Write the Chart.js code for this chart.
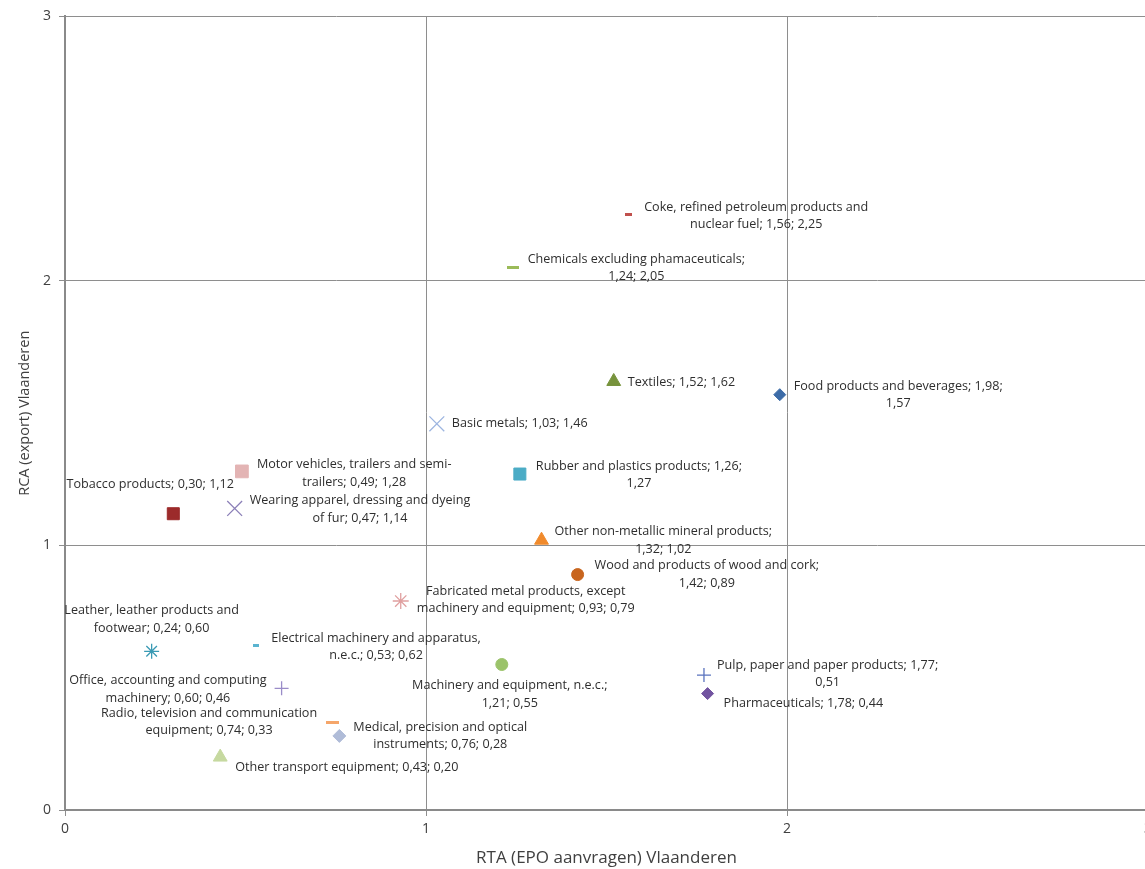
<!DOCTYPE html>
<html>
<head>
<meta charset="utf-8">
<script src="https://cdn.jsdelivr.net/npm/chart.js@4.4.1/dist/chart.umd.min.js"></script>
<style>
  html, body { margin: 0; padding: 0; background: #fff; overflow: hidden; width: 1145px; height: 869px; }
  canvas { display: block; }
</style>
</head>
<body>
<canvas id="chart" width="1165" height="869"></canvas>
<script>
// Sectors (Flanders): technological specialisation (RTA, EPO applications) vs export specialisation (RCA)
const sectors = [
  'Food products and beverages',
  'Tobacco products',
  'Textiles',
  'Wearing apparel, dressing and dyeing of fur',
  'Leather, leather products and footwear',
  'Wood and products of wood and cork',
  'Pulp, paper and paper products',
  'Coke, refined petroleum products and nuclear fuel',
  'Chemicals excluding phamaceuticals',
  'Pharmaceuticals',
  'Rubber and plastics products',
  'Other non-metallic mineral products',
  'Basic metals',
  'Fabricated metal products, except machinery and equipment',
  'Machinery and equipment, n.e.c.',
  'Office, accounting and computing machinery',
  'Electrical machinery and apparatus, n.e.c.',
  'Radio, television and communication equipment',
  'Medical, precision and optical instruments',
  'Motor vehicles, trailers and semi-trailers',
  'Other transport equipment'
];
const rtaValues = [1.98, 0.30, 1.52, 0.47, 0.24, 1.42, 1.77, 1.56, 1.24, 1.78, 1.26, 1.32, 1.03, 0.93, 1.21, 0.60, 0.53, 0.74, 0.76, 0.49, 0.43];
const rcaValues = [1.57, 1.12, 1.62, 1.14, 0.60, 0.89, 0.51, 2.25, 2.05, 0.44, 1.27, 1.02, 1.46, 0.79, 0.55, 0.46, 0.62, 0.33, 0.28, 1.28, 0.20];
const axisRange = [0, 3];
const axisStep = 1;

// number of words on the first line of each data label (0 = single line)
const wrapAfter = [5, 0, 0, 5, 4, 7, 6, 5, 3, 0, 5, 5, 0, 4, 4, 4, 4, 4, 4, 5, 0];
// label placement: r = block starts right of marker, l = block ends left of marker, c = centred
const labelPlacement = [
  ['r', 14, 0], ['c', -23, -29], ['r', 14, 1], ['r', 15, 1], ['c', 0, -32],
  ['r', 17, 0], ['r', 13, -1], ['r', 16, 1], ['r', 15, 0], ['r', 16, 10],
  ['r', 16, 1], ['r', 13, 0], ['r', 15, 0], ['r', 16, -1], ['c', 8, 30],
  ['l', -15, 1], ['r', 15, 1], ['l', -15, -1], ['r', 14, 0], ['r', 15, 2],
  ['r', 15, 10]
];

function dashMarker(w, h, color) {
  const c = document.createElement('canvas');
  c.width = w; c.height = h;
  const g = c.getContext('2d');
  g.fillStyle = color;
  g.fillRect(0, 0, w, h);
  return c;
}

// marker style per sector: [pointStyle, radius, colour]
const markerStyles = [
  ['rectRot', 6, '#3D6CA8'],
  ['rect', 8.5, '#9C2B2B'],
  ['triangle', 8, '#77933C'],
  ['crossRot', 10.5, '#8C80B8'],
  ['star', 7.5, '#3A9AB4'],
  ['circle', 6, '#C8651E'],
  ['cross', 7, '#5A73BE'],
  [dashMarker(7, 3, '#C0504D'), 4, '#C0504D'],
  [dashMarker(12, 3, '#9BBB59'), 6, '#9BBB59'],
  ['rectRot', 6, '#7254A0'],
  ['rect', 8.5, '#4BACC6'],
  ['triangle', 8, '#F08A2C'],
  ['crossRot', 10.5, '#9DB5E0'],
  ['star', 8, '#E0A0A0'],
  ['circle', 6, '#9BC36A'],
  ['cross', 7, '#9A8CC8'],
  [dashMarker(6, 3, '#5AB4D0'), 4, '#5AB4D0'],
  [dashMarker(13, 3, '#F5A66A'), 7, '#F5A66A'],
  ['rectRot', 6.5, '#B0BCD8'],
  ['rect', 9, '#E3B4B4'],
  ['triangle', 8, '#C6D9A0']
];

const fmt = v => v.toFixed(2).replace('.', ',');

function labelLines(i) {
  const full = sectors[i] + '; ' + fmt(rtaValues[i]) + '; ' + fmt(rcaValues[i]);
  const tokens = full.match(/[^\s-]+-?|-/g);
  const join = arr => arr.reduce((s, t, k) => s + (k === 0 || arr[k - 1].endsWith('-') ? '' : ' ') + t, '');
  const n = wrapAfter[i];
  if (!n) return [join(tokens)];
  return [join(tokens.slice(0, n)), join(tokens.slice(n))];
}

const labelFont = '12.6px "Open Sans"';

const pointLabels = {
  id: 'pointLabels',
  afterDatasetsDraw(chart) {
    const ctx = chart.ctx;
    ctx.save();
    ctx.font = labelFont;
    ctx.fillStyle = '#2E2E2E';
    ctx.textAlign = 'center';
    ctx.textBaseline = 'middle';
    chart.data.datasets.forEach((ds, i) => {
      const el = chart.getDatasetMeta(i).data[0];
      const lines = labelLines(i);
      const w = Math.max(...lines.map(l => ctx.measureText(l).width));
      const [mode, dx, dy] = labelPlacement[i];
      let cx = el.x + dx;
      if (mode === 'r') cx += w / 2;
      else if (mode === 'l') cx -= w / 2;
      const cy = el.y + dy;
      const lh = 17.5;
      lines.forEach((l, k) => ctx.fillText(l, cx, cy + (k - (lines.length - 1) / 2) * lh));
    });
    ctx.restore();
  }
};

const datasets = sectors.map((name, i) => {
  const [style, radius, color] = markerStyles[i];
  const filled = ['rect', 'rectRot', 'triangle', 'circle'].includes(style);
  return {
    label: name,
    data: [{ x: rtaValues[i], y: rcaValues[i] }],
    pointStyle: style,
    pointRadius: radius,
    pointHoverRadius: radius,
    backgroundColor: color,
    borderColor: color,
    borderWidth: filled ? 1 : 1.3,
    showLine: false
  };
});

function draw() {
  new Chart(document.getElementById('chart'), {
    type: 'scatter',
    data: { datasets },
    plugins: [pointLabels],
    options: {
      responsive: false,
      animation: false,
      devicePixelRatio: 1,
      layout: { padding: { top: 15, right: 17, bottom: 0, left: 0 } },
      plugins: { legend: { display: false }, tooltip: { enabled: false } },
      scales: {
        x: {
          type: 'linear',
          min: axisRange[0], max: axisRange[1],
          ticks: { stepSize: axisStep, color: '#404040', font: { family: 'Open Sans', size: 14 }, padding: 5 },
          grid: { color: '#8E8E8E', lineWidth: 1, tickLength: 6, tickColor: '#8E8E8E' },
          border: { color: '#8A8A8A', width: 2 },
          title: { display: true, text: 'RTA (EPO aanvragen) Vlaanderen', color: '#404040',
                   font: { family: 'Open Sans', size: 17 }, padding: { top: 0, bottom: 1 } },
          afterFit: s => { s.height = 59; }
        },
        y: {
          type: 'linear',
          min: axisRange[0], max: axisRange[1],
          ticks: { stepSize: axisStep, color: '#404040', font: { family: 'Open Sans', size: 14 }, padding: 8 },
          grid: { color: '#8E8E8E', lineWidth: 1, tickLength: 6, tickColor: '#8E8E8E' },
          border: { color: '#8A8A8A', width: 2 },
          title: { display: true, text: 'RCA (export) Vlaanderen', color: '#404040',
                   font: { family: 'Open Sans', size: 14.5 }, padding: { top: 16, bottom: 0 } },
          afterFit: s => { s.width = 65; }
        }
      }
    }
  });
}

Promise.all([
  document.fonts.load('12.6px "Open Sans"'),
  document.fonts.load('17px "Open Sans"')
]).catch(() => {}).then(draw);
</script>
</body>
</html>
